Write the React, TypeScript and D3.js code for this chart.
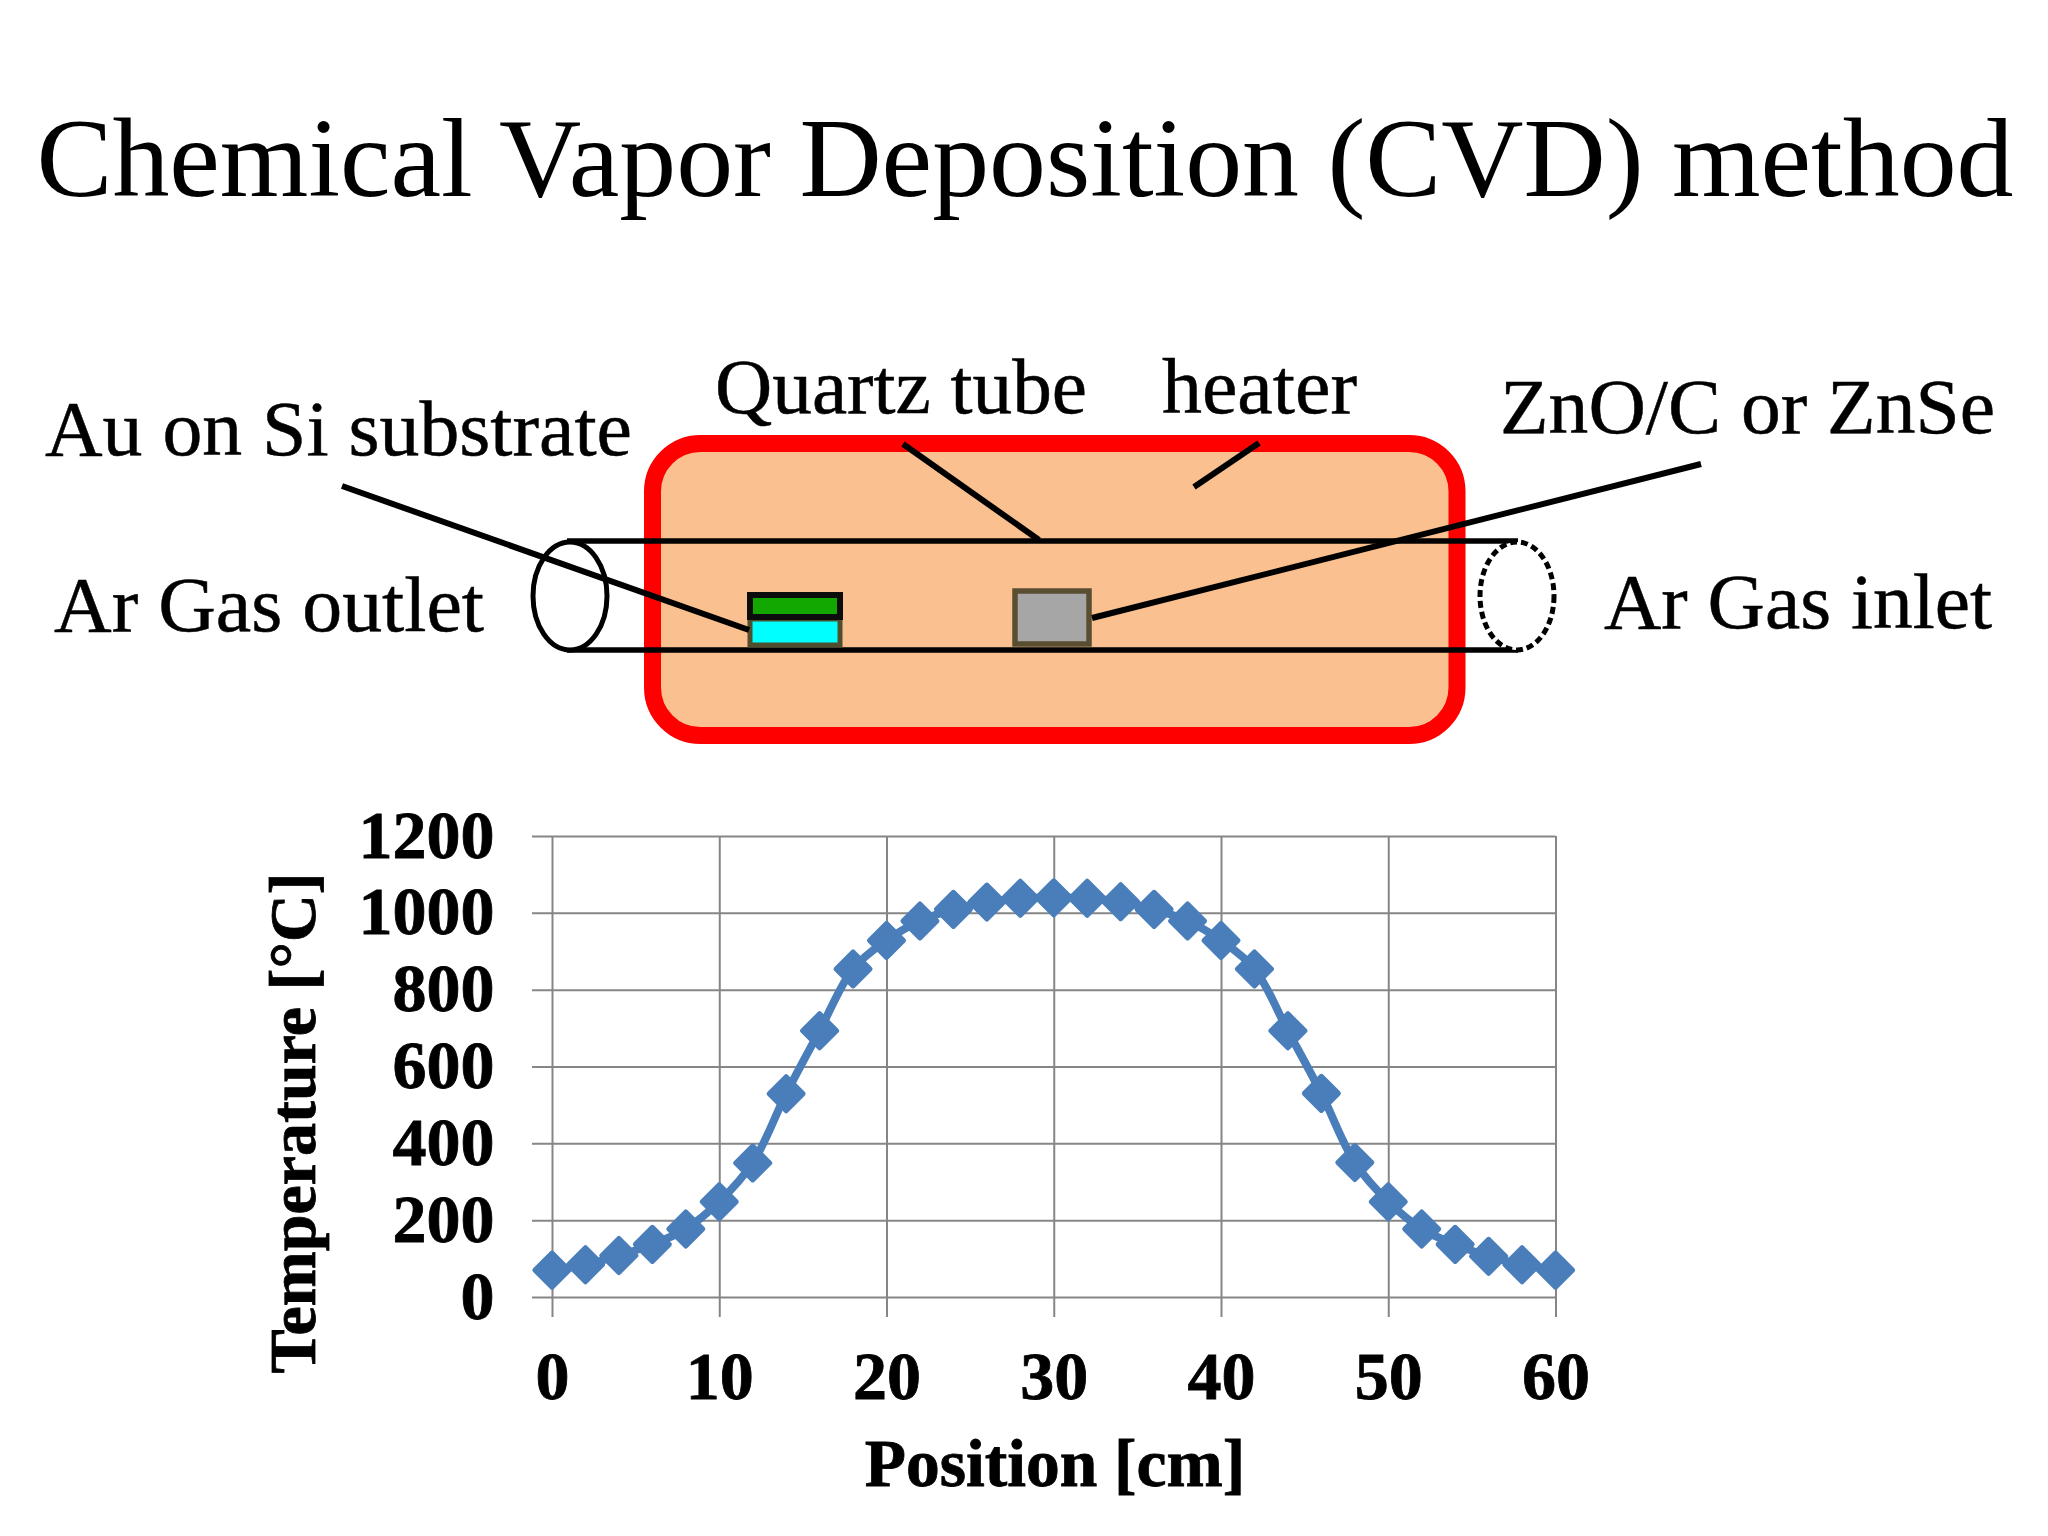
// React
import { useEffect, useRef } from 'react';

// Installed Packages
import * as d3 from 'd3';

const positions = [0, 2, 4, 6, 8, 10, 12, 14, 16, 18, 20, 22, 24, 26, 28, 30, 32, 34, 36, 38, 40, 42, 44, 46, 48, 50, 52, 54, 56, 58, 60];
const temperatures = [70, 84, 108, 137, 177, 248, 349, 529, 693, 854, 928, 979, 1009, 1028, 1038, 1039, 1038, 1029, 1009, 979, 928, 854, 693, 530, 350, 248, 177, 137, 106, 84, 70];
const xTicks = [0, 10, 20, 30, 40, 50, 60];
const yTicks = [0, 200, 400, 600, 800, 1000, 1200];

const serif = '"Liberation Serif", serif';
const gridColor = '#868686';
const seriesColor = '#4a7ebb';

// labels of the furnace sketch
const sketchLabels = [
    { text: 'Quartz tube', x: 715, y: 413, w: 372 },
    { text: 'heater', x: 1162, y: 413, w: 195 },
    { text: 'ZnO/C or ZnSe', x: 1500, y: 433, w: 495 },
    { text: 'Au on Si substrate', x: 45, y: 455, w: 587 },
    { text: 'Ar Gas outlet', x: 54, y: 631, w: 430 },
    { text: 'Ar Gas inlet', x: 1604, y: 628, w: 388 },
];

// leader lines of the furnace sketch
const leaders = [
    [342, 486, 749, 630],
    [903, 444, 1039, 540],
    [1259, 443, 1194, 487],
    [1701, 464, 1092, 618],
];

export default function App() {
    const ref = useRef<SVGGElement>(null);

    useEffect(() => {
        const svg = d3.select(ref.current);
        svg.html('');

        const x = d3.scaleLinear().domain([0, 60]).range([552, 1555.5]);
        const y = d3.scaleLinear().domain([0, 1200]).range([1297, 836]);

        // Y axis, ticks run across the plot as grid lines
        const yAxis = svg.append('g')
            .attr('transform', `translate(${x(0)}, 0)`)
            .call(d3.axisLeft(y).tickValues(yTicks).tickSize(20).tickFormat(d3.format('d')));
        yAxis.select('.domain').remove();
        yAxis.selectAll('line')
            .attr('x1', -20).attr('x2', x(60) - x(0))
            .attr('stroke', gridColor).attr('stroke-width', 2);
        yAxis.selectAll('text')
            .attr('x', -57.5).attr('dy', null).attr('y', 21)
            .attr('font-family', serif).attr('font-weight', 700).attr('font-size', 68)
            .attr('fill', '#000').attr('stroke', '#000').attr('stroke-width', 0.8);

        // X axis
        const xAxis = svg.append('g')
            .attr('transform', `translate(0, ${y(0)})`)
            .call(d3.axisBottom(x).tickValues(xTicks).tickSize(20).tickFormat(d3.format('d')));
        xAxis.select('.domain').remove();
        xAxis.selectAll('line')
            .attr('y1', y(1200) - y(0)).attr('y2', 20)
            .attr('stroke', gridColor).attr('stroke-width', 2);
        xAxis.selectAll('text')
            .attr('y', 101.5).attr('dy', null)
            .attr('font-family', serif).attr('font-weight', 700).attr('font-size', 68)
            .attr('fill', '#000').attr('stroke', '#000').attr('stroke-width', 0.8);

        svg.append('text')
            .attr('x', 1055).attr('y', 1486).attr('text-anchor', 'middle')
            .attr('font-family', serif).attr('font-weight', 700).attr('font-size', 67.5)
            .attr('stroke', '#000').attr('stroke-width', 0.8)
            .text('Position [cm]');
        svg.append('text')
            .attr('transform', 'translate(315, 1123) rotate(-90)').attr('text-anchor', 'middle')
            .attr('font-family', serif).attr('font-weight', 700).attr('font-size', 66)
            .attr('stroke', '#000').attr('stroke-width', 0.8)
            .text('Temperature [°C]');

        // Line
        const points = positions.map((p, i) => [p, temperatures[i]] as [number, number]);
        const line = d3.line<[number, number]>()
            .x(d => x(d[0]))
            .y(d => y(d[1]))
            .curve(d3.curveCatmullRom.alpha(0.5));
        svg.append('path')
            .attr('d', line(points))
            .attr('fill', 'none').attr('stroke', seriesColor).attr('stroke-width', 8);

        // Markers
        const diamond = d3.symbol().type(d3.symbolSquare).size(2 * 17 * 17)();
        svg.selectAll('path.marker')
            .data(points)
            .join('path')
            .attr('class', 'marker')
            .attr('d', diamond)
            .attr('transform', d => `translate(${x(d[0])}, ${y(d[1])}) rotate(45)`)
            .attr('fill', seriesColor)
            .attr('stroke', seriesColor).attr('stroke-width', 5).attr('stroke-linejoin', 'round');
    }, []);

    return (
        <svg width={2048} height={1536} viewBox="0 0 2048 1536"
            style={{ position: 'absolute', left: 0, top: 0, background: '#fff' }}>
            <text x={1025} y={196} textAnchor="middle" fontFamily={serif} fontSize={112}
                textLength={1977} lengthAdjust="spacingAndGlyphs">
                Chemical Vapor Deposition (CVD) method
            </text>

            {/* heater */}
            <rect x={652.5} y={443.5} width={804.5} height={292} rx={48} ry={48}
                fill="#fac090" stroke="#ff0000" strokeWidth={17} />

            {/* quartz tube */}
            <line x1={567} y1={541} x2={1518} y2={541} stroke="#000" strokeWidth={5.5} />
            <line x1={567} y1={650} x2={1518} y2={650} stroke="#000" strokeWidth={5.5} />
            <ellipse cx={570} cy={596} rx={37} ry={54} fill="#fff" stroke="#000" strokeWidth={5} />
            <ellipse cx={1517} cy={596} rx={37} ry={54} fill="#fff" stroke="#000" strokeWidth={5} strokeDasharray="7 4" />

            {/* substrate and source */}
            <rect x={750} y={619} width={90} height={26} fill="#00ffff" stroke="#4f4f2f" strokeWidth={5} />
            <rect x={750} y={595} width={90} height={22} fill="#13a800" stroke="#0c0c0c" strokeWidth={6} />
            <rect x={1015} y={591} width={74} height={53} fill="#a6a6a6" stroke="#5a4e32" strokeWidth={5.5} />

            {leaders.map((l, i) => (
                <line key={i} x1={l[0]} y1={l[1]} x2={l[2]} y2={l[3]} stroke="#000" strokeWidth={6} />
            ))}

            {sketchLabels.map(l => (
                <text key={l.text} x={l.x} y={l.y} fontFamily={serif} fontSize={78} stroke="#000" strokeWidth={0.5}
                    textLength={l.w} lengthAdjust="spacingAndGlyphs">{l.text}</text>
            ))}

            <g ref={ref} />
        </svg>
    );
}
